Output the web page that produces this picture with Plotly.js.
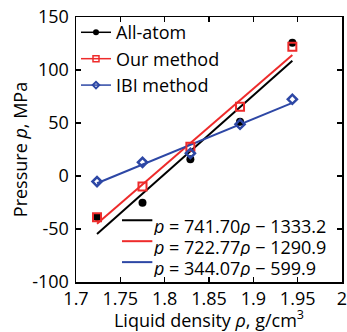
<!DOCTYPE html>
<html>
<head>
<meta charset="utf-8">
<script src="https://cdn.plot.ly/plotly-3.0.1.min.js"></script>
<style>
  html, body { margin: 0; padding: 0; background: #ffffff; }
  #chart { width: 347px; height: 332px; }
</style>
</head>
<body>
<div id="chart"></div>
<script>
// ---- data ----
const densityX   = [1.7237, 1.775, 1.829, 1.885, 1.944];
const allAtom    = [-38.7, -25.2, 15.7, 51.2, 125.8];
const ourMethod  = [-39.0, -10.0, 27.7, 65.4, 122.0];
const ibiMethod  = [-5.3, 12.9, 21.4, 48.8, 72.4];

const seriesNames = ['All-atom', 'Our method', 'IBI method'];
const fitSlope     = [741.70, 722.77, 344.07];
const fitIntercept = [-1333.2, -1290.9, -599.9];
const fitLabels = [
  '<i>p</i> = 741.70<i>ρ</i> − 1333.2',
  '<i>p</i> = 722.77<i>ρ</i> − 1290.9',
  '<i>p</i> = 344.07<i>ρ</i> − 599.9'
];
const fitRange = [1.7237, 1.944];

const xTickVals = [1.7, 1.75, 1.8, 1.85, 1.9, 1.95, 2];
const xTickText = ['1.7', '1.75', '1.8', '1.85', '1.9', '1.95', '2'];
const yTickVals = [-100, -50, 0, 50, 100, 150];
const yTickText = ['-100', '-50', '0', '50', '100', '150'];

// ---- styles ----
const colors  = ['#000000', '#ee2b2b', '#2d47a5'];
const FONT = 'Open Sans, Noto Sans, sans-serif';

const traces = [];
// fit lines (from the equations printed on the chart)
for (let i = 0; i < 3; i++) {
  traces.push({
    x: fitRange,
    y: fitRange.map(r => fitSlope[i] * r + fitIntercept[i]),
    mode: 'lines',
    line: { color: colors[i], width: 2 },
    showlegend: false,
    hoverinfo: 'skip'
  });
}
// data markers
const seriesY = [allAtom, ourMethod, ibiMethod];
const plotMarkers = [
  { symbol: 'circle', size: 8, color: colors[0], line: { width: 0 } },
  { symbol: 'square-open', size: 8, color: colors[1], line: { width: 2, color: colors[1] } },
  { symbol: 'diamond-open', size: 7, color: colors[2], line: { width: 2.5, color: colors[2] } }
];
for (let i = 0; i < 3; i++) {
  traces.push({
    x: densityX, y: seriesY[i],
    mode: 'markers',
    marker: plotMarkers[i],
    showlegend: false
  });
}
// legend entries (line + marker keys)
const legendMarkers = [
  { symbol: 'circle', size: 6, color: colors[0] },
  { symbol: 'square-open', size: 6, color: colors[1], line: { width: 1.5, color: colors[1] } },
  { symbol: 'diamond-open', size: 5, color: colors[2], line: { width: 2, color: colors[2] } }
];
for (let i = 0; i < 3; i++) {
  traces.push({
    x: [null], y: [null],
    mode: 'lines+markers',
    name: seriesNames[i],
    line: { color: colors[i], width: 1.5 },
    marker: legendMarkers[i],
    showlegend: true
  });
}

// fit-equation key (annotations + short line keys)
const annotations = [];
const shapes = [];
const keyRowsY = [0.214, 0.135, 0.056];   // paper y of key rows
for (let i = 0; i < 3; i++) {
  shapes.push({
    type: 'line', xref: 'paper', yref: 'paper',
    x0: 0.173, x1: 0.287, y0: keyRowsY[i] + 0.019, y1: keyRowsY[i] + 0.019,
    line: { color: colors[i], width: 2 }
  });
  annotations.push({
    xref: 'paper', yref: 'paper', x: 0.285, y: keyRowsY[i],
    xanchor: 'left', yanchor: 'middle', showarrow: false,
    height: 19, valign: 'middle', borderpad: 0,
    text: fitLabels[i], font: { family: FONT, size: 18, color: '#000' }
  });
}

const axisCommon = {
  showline: true, linecolor: '#000', linewidth: 1.5, mirror: 'ticks',
  ticks: 'inside', ticklen: 5, tickwidth: 1.5, tickcolor: '#000',
  showgrid: false, zeroline: false,
  tickfont: { family: FONT, size: 18, color: '#000' }
};

const layout = {
  width: 347, height: 332,
  margin: { l: 76, r: 5, t: 17, b: 50 },
  paper_bgcolor: '#fff', plot_bgcolor: '#fff',
  font: { family: FONT, size: 18, color: '#000' },
  xaxis: Object.assign({}, axisCommon, {
    range: [1.7, 2], tickmode: 'array', tickvals: xTickVals, ticktext: xTickText,
    ticklabelstandoff: 0, ticklabeloverflow: 'allow',
    title: { text: 'Liquid density <i>ρ</i>, g/cm<sup>3</sup>', font: { family: FONT, size: 18, color: '#000' }, standoff: 4 }
  }),
  yaxis: Object.assign({}, axisCommon, {
    range: [-100, 150], tickmode: 'array', tickvals: yTickVals, ticktext: yTickText,
    ticklabelstandoff: 2,
    title: { text: 'Pressure <i>p</i>, MPa', font: { family: FONT, size: 18, color: '#000' }, standoff: 0 }
  }),
  legend: {
    x: 0.0, y: 1.011, xanchor: 'left', yanchor: 'top',
    bgcolor: 'rgba(0,0,0,0)', borderwidth: 0,
    font: { family: FONT, size: 18, color: '#000' },
    itemwidth: 30
  },
  showlegend: true,
  annotations: annotations,
  shapes: shapes
};

Plotly.newPlot('chart', traces, layout, { staticPlot: true, displayModeBar: false });
</script>
</body>
</html>
